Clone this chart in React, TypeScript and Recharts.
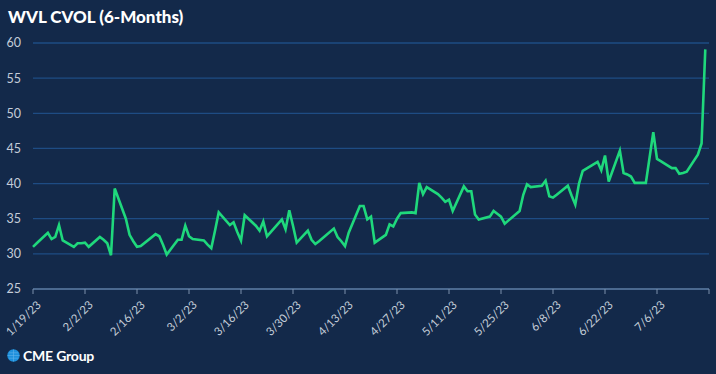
import React from "react";
import { LineChart, Line, XAxis, YAxis, CartesianGrid } from "recharts";

const START_DATE = "2023-01-19";
const END_DATE = "2023-07-19";
const HOLIDAYS = ["2023-02-20", "2023-04-07", "2023-05-29", "2023-06-19", "2023-07-04"];

// one value per trading day, week by week
const CVOL_VALUES = [
  31.0, 31.5,
  33.0, 32.1, 32.4, 34.1, 31.9,
  31.0, 31.5, 31.5, 31.6, 31.0,
  32.4, 32.0, 31.5, 29.8, 39.3,
  35.0, 32.7, 31.8, 31.0, 31.1,
  32.8, 32.5, 31.3, 29.9,
  32.0, 32.0, 34.0, 32.5, 32.1,
  31.9, 31.3, 30.8, 33.3, 35.9,
  34.1, 34.5, 33.1, 31.9, 35.5,
  34.0, 33.3, 34.6, 32.5, 33.1,
  34.9, 33.5, 36.2, 34.0, 31.6,
  33.3, 32.0, 31.4, 31.8,
  33.6, 32.4, 31.8, 31.1, 33.0,
  36.8, 36.8, 34.9, 35.3, 31.6,
  32.7, 34.2, 33.9, 35.0, 35.8,
  35.9, 35.8, 40.1, 38.5, 39.5,
  38.5, 38.0, 37.4, 37.7, 36.1,
  39.6, 38.9, 38.9, 35.6, 34.9,
  35.3, 36.1, 35.7, 35.3, 34.3,
  36.1, 38.4, 39.9, 39.5,
  39.7, 40.4, 38.2, 38.0, 38.4,
  39.7, 38.3, 37.0, 40.0, 41.8,
  43.1, 41.9, 44.0, 40.3,
  44.7, 41.5, 41.3, 41.0, 40.1,
  40.1, 47.3, 43.5, 43.2,
  42.2, 42.2, 41.4, 41.5, 41.7,
  44.1, 45.7, 59.1,
];

const TICK_LABELS = [
  "1/19/23", "2/2/23", "2/16/23", "3/2/23", "3/16/23", "3/30/23", "4/13/23",
  "4/27/23", "5/11/23", "5/25/23", "6/8/23", "6/22/23", "7/6/23", "",
];
const Y_TICKS = [25, 30, 35, 40, 45, 50, 55, 60];

const DAY_MS = 86400000;

// trading days between start and end (weekdays minus holidays)
const tradingDays = () => {
  const out: number[] = [];
  const start = Date.parse(START_DATE);
  const end = Date.parse(END_DATE);
  for (let t = start; t <= end; t += DAY_MS) {
    const d = new Date(t);
    const wd = d.getUTCDay();
    if (wd === 0 || wd === 6) continue;
    if (HOLIDAYS.includes(d.toISOString().slice(0, 10))) continue;
    out.push(Math.round((t - start) / DAY_MS));
  }
  return out;
};

const days = tradingDays();
const data = CVOL_VALUES.map((v, i) => ({ day: days[i], cvol: v }));
const xTicks = TICK_LABELS.map((_, i) => i * 14);

const FONT = "Lato, 'Open Sans', sans-serif";

const DateTick = (props: any) => {
  const { x, y, payload } = props;
  const label = TICK_LABELS[Math.round(payload.value / 14)] ?? "";
  return (
    <g transform={`translate(${x + 3},${y + 4})`}>
      <text
        textAnchor="end"
        transform="rotate(-45)"
        fill="#c4cdd9"
        fontSize={11.5}
        fontFamily={FONT}
        dy={8}
      >
        {label}
      </text>
    </g>
  );
};

export default function App() {
  return (
    <div
      style={{
        position: "fixed",
        left: 0,
        top: 0,
        width: 716,
        height: 374,
        background: "#13294a",
        fontFamily: FONT,
        overflow: "hidden",
      }}
    >
      <div
        style={{
          position: "absolute",
          left: 8,
          top: 6,
          color: "#ffffff",
          fontSize: 17,
          fontWeight: 900,
        }}
      >
        WVL CVOL (6-Months)
      </div>

      <div style={{ position: "absolute", left: 0, top: 0 }}>
        <LineChart
          width={716}
          height={374}
          data={data}
          margin={{ top: 43, right: 7, left: 0, bottom: 0 }}
        >
          <CartesianGrid vertical={false} stroke="#1e4c84" strokeWidth={1.3} />
          <XAxis
            dataKey="day"
            type="number"
            domain={[0, 182]}
            ticks={xTicks}
            interval={0}
            height={85}
            stroke="#7d90ab"
            tickSize={5}
            tick={<DateTick />}
          />
          <YAxis
            domain={[25, 60]}
            ticks={Y_TICKS}
            interval={0}
            width={33}
            axisLine={false}
            tickLine={false}
            tickMargin={6}
            tick={{ fill: "#c4cdd9", fontSize: 12.5, fontFamily: FONT }}
          />
          <Line
            type="linear"
            dataKey="cvol"
            stroke="#1fd87c"
            strokeWidth={2.6}
            dot={false}
            isAnimationActive={false}
          />
        </LineChart>
      </div>

      <div
        style={{
          position: "absolute",
          left: 7,
          top: 347,
          display: "flex",
          alignItems: "center",
          gap: 3,
        }}
      >
        <svg width={13} height={13} viewBox="0 0 13 13">
          <circle cx={6.5} cy={6.5} r={6.2} fill="#1e90dc" />
          <path d="M0.5 6.5h12M6.5 0.5v12M2 3.8h9M2 9.2h9" stroke="#6ab8ec" strokeWidth={0.5} fill="none" />
        </svg>
        <span style={{ color: "#ffffff", fontSize: 14, fontWeight: 700, letterSpacing: -0.2 }}>CME Group</span>
      </div>
    </div>
  );
}
